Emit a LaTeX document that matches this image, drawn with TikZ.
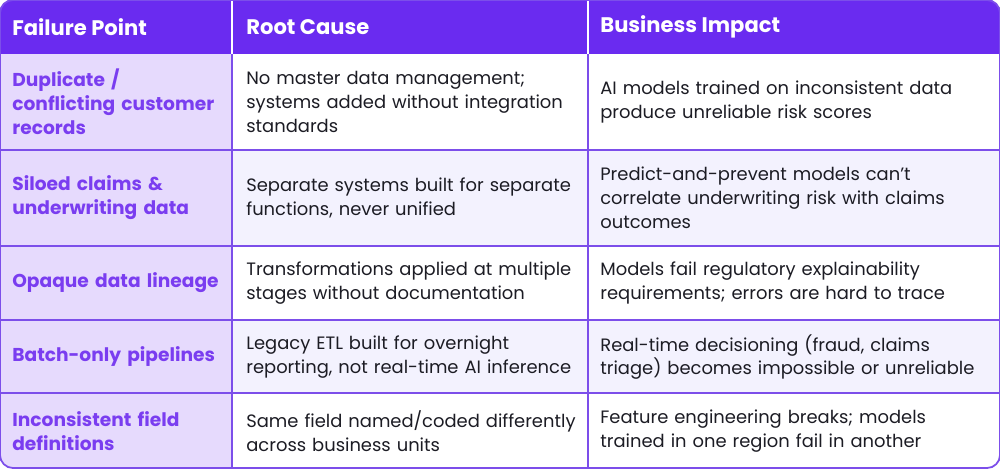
\documentclass[tikz,border=0pt]{standalone}
\usepackage{fontspec}
\setmainfont{Poppins}
\definecolor{headpurple}{HTML}{6A2BF0}
\definecolor{gridpurple}{HTML}{7C4EEA}
\definecolor{firstcol}{HTML}{E6DAFD}
\definecolor{altrow}{HTML}{F3F2FE}
\definecolor{pointtext}{HTML}{7A3DF0}
\definecolor{bodytext}{HTML}{1C1C24}
\tikzset{
  headcell/.style={anchor=west,text=white,font=\fontsize{12}{14}\selectfont\bfseries,inner sep=0pt},
  pointcell/.style={anchor=west,text=pointtext,font=\fontsize{10.6}{13.6}\selectfont\bfseries,text width=6cm,align=left,inner sep=0pt},
  bodycell/.style={anchor=west,text=bodytext,font=\fontsize{10.2}{13.6}\selectfont,text width=8cm,align=left,inner sep=0pt}
}
\begin{document}
\begin{tikzpicture}[x=0.02cm,y=-0.02cm]
\useasboundingbox (0,0) rectangle (1000,468);
\begin{scope}
  \clip[rounded corners=0.26cm] (0,0) rectangle (1000,468);
  \fill[white] (0,0) rectangle (1000,468);
  \fill[headpurple] (0,0) rectangle (1000,54);
  \fill[firstcol] (0,54) rectangle (232,468);
  \fill[altrow] (232,150) rectangle (1000,246);
  \fill[altrow] (232,320) rectangle (1000,393);
  % grid
  \foreach \y in {150,246,320,393} \draw[gridpurple,line width=0.6pt] (0,\y) -- (1000,\y);
  \draw[white,line width=0.6pt] (232,0) -- (232,54);
  \draw[white,line width=0.6pt] (588,0) -- (588,54);
  \draw[gridpurple,line width=0.6pt] (232,54) -- (232,468);
  \draw[gridpurple,line width=0.6pt] (588,54) -- (588,468);
\end{scope}
\draw[gridpurple,line width=1pt,rounded corners=0.26cm] (0,0) rectangle (1000,468);
% header
\node[headcell] (h1) at (12,27) {Failure Point};
\node[headcell] (h2) at (246,27) {Root Cause};
\node[headcell] (h3) at (600,27) {Business Impact};
% row 1
\node[pointcell,text width=4.2cm] (p1) at (12,102) {Duplicate /\\conflicting customer\\records};
\node[bodycell,text width=6.8cm] (c1) at (246,102) {No master data management;\\systems added without integration\\standards};
\node[bodycell] (i1) at (600,102) {AI models trained on inconsistent data\\produce unreliable risk scores};
% row 2
\node[pointcell] (p2) at (12,198) {Siloed claims \&\\underwriting data};
\node[bodycell,text width=6.8cm] (c2) at (246,198) {Separate systems built for separate\\functions, never unified};
\node[bodycell] (i2) at (600,198) {Predict-and-prevent models can't\\correlate underwriting risk with claims\\outcomes};
% row 3
\node[pointcell] (p3) at (12,283) {Opaque data lineage};
\node[bodycell,text width=6.8cm] (c3) at (246,283) {Transformations applied at multiple\\stages without documentation};
\node[bodycell] (i3) at (600,283) {Models fail regulatory explainability\\requirements; errors are hard to trace};
% row 4
\node[pointcell] (p4) at (12,357) {Batch-only pipelines};
\node[bodycell,text width=6.8cm] (c4) at (246,357) {Legacy ETL built for overnight\\reporting, not real-time AI inference};
\node[bodycell] (i4) at (600,357) {Real-time decisioning (fraud, claims\\triage) becomes impossible or unreliable};
% row 5
\node[pointcell] (p5) at (12,431) {Inconsistent field\\definitions};
\node[bodycell,text width=6.8cm] (c5) at (246,431) {Same field named/coded differently\\across business units};
\node[bodycell] (i5) at (600,431) {Feature engineering breaks; models\\trained in one region fail in another};
\end{tikzpicture}
\end{document}
